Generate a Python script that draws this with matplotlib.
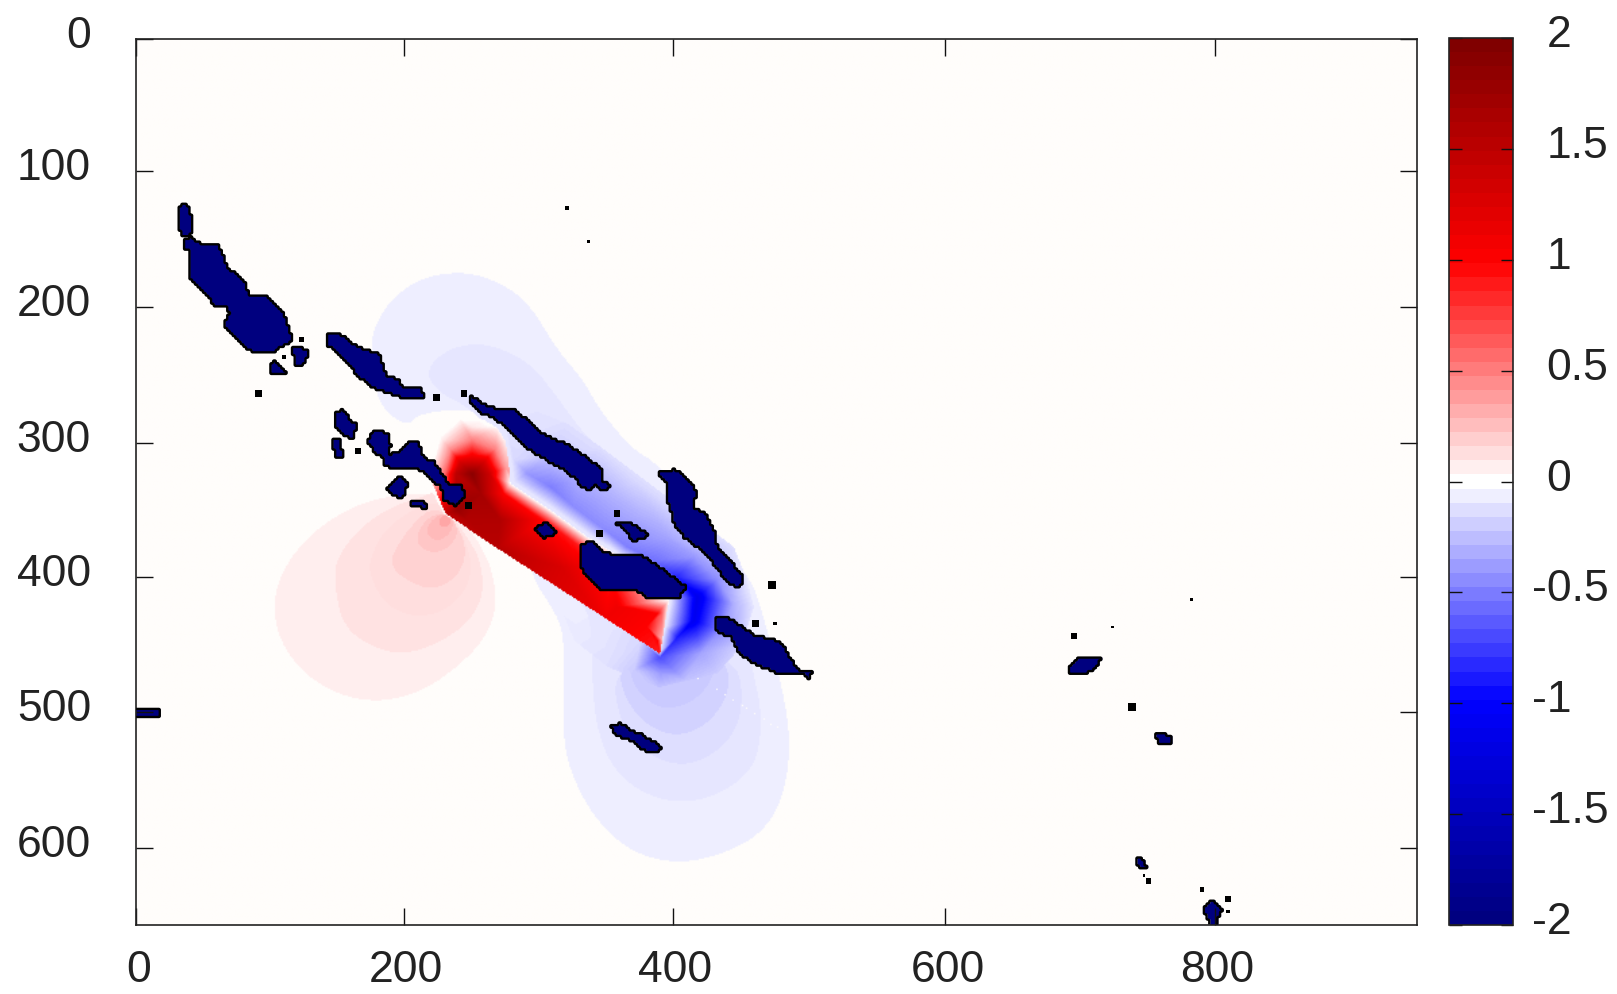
import numpy as np
import matplotlib
matplotlib.use("Agg")
import matplotlib.pyplot as plt
from matplotlib.cm import ScalarMappable
from matplotlib.colors import LinearSegmentedColormap, ListedColormap, Normalize
from matplotlib.path import Path
from matplotlib.transforms import ScaledTranslation
import matplotlib.tri as mtri

plt.rcParams['font.family'] = ['Liberation Sans', 'DejaVu Sans']

X_MAX, Y_MAX = 950, 656
x_labels = ['0', '200', '400', '600', '800']
x_tick_pos = [0, 198.7, 398.2, 600, 800]
y_labels = ['0', '100', '200', '300', '400', '500', '600']
y_tick_pos = [0, 97.7, 198.5, 299.3, 398.5, 498.5, 599.2]
cbar_ticks = [-2, -1.5, -1, -0.5, 0, 0.5, 1, 1.5, 2]
cbar_labels = ['-2', '-1.5', '-1', '-0.5', '0', '0.5', '1', '1.5', '2']

# ---- stepped outer contours (level, outline)
red_1 = [(223.3,336.6),(188.7,337.8),(159,346.5),(129.4,366.2),(109.6,390.9),(101,418.1),(107.1,447.7),(126.9,472.4),(154.1,487.2),(183.7,490.9),(213.4,482.3),(238.1,465),(257.9,445.2),(267.8,420.5),(264,393.4),(255.4,374.9),(243,356.3),(230,345)]
red_2 = [(223.3,334.1),(208.5,340.3),(188.7,346.5),(166.4,361.3),(149.1,383.5),(146.7,400.8),(152.9,435.4),(178.8,452.6),(203.5,455.1),(228.2,445.2),(248,430.4),(257.9,410.7),(255.4,386),(245.5,368.7),(234.4,353.9)]
red_3 = [(223.3,341.5),(203.5,348.9),(183.7,363.7),(173.9,383.5),(172.6,395.8),(183.7,418.1),(203.5,428),(225.7,425.5),(243,410.7),(249.2,393.4),(245.5,373.6),(233.2,353.9)]
red_4 = [(218.3,346.5),(201,363.7),(188.7,383.5),(191.1,393.4),(201,400.8),(218.3,408.2),(235.6,400.8),(244.3,386),(243,368.7),(231.9,352.6)]
red_5 = [(230.7,350.2),(215.9,353.9),(207.2,368.7),(210.9,377.3),(222,381),(234.4,374.9),(239.3,362.5)]
red_6 = [(218.3,356.3),(214.6,366.2),(223.3,372.4),(233.2,366.2),(235.6,356.3),(229.5,350.2)]
red_8 = [(228.2,350.9),(223.3,358.8),(229.5,362.5),(234.4,356.3)]
blue_1 = [(236.8,172.3),(260,176),(289,192),(312,230),(331,252),(339.4,267.4),(350.5,283.5),(369.1,304.5),(386.4,314.3),(416,351.4),(433.3,371.1),(448.1,390.9),(458,405.7),(464.2,425.4),(476.6,469.9),(484,509.4),(484,536.6),(477.8,566.2),(463,588.4),(438.2,602),(411,609.4),(386.4,608.2),(361.7,598.3),(339.4,576.1),(324.6,548.9),(317.2,524.2),(316.7,492),(317.2,450.1),(314.7,432.8),(304.8,415.6),(293.7,399.5),(277.6,329),(275.2,294.6),(267.8,282.2),(250.5,274.8),(228.2,274.8),(208.5,278.5),(201,286.6),(186.2,277.2),(177.5,262.4),(173.8,225.4),(178.8,208.1),(191.1,190.8),(210.9,177.2)]
blue_2 = [(215.8,250.1),(219.5,239),(233.1,229.1),(250.4,225.4),(267.7,227.9),(292.4,240.2),(310,262),(330,290),(350,310),(375,333),(392,345),(410,365),(430,390),(445,410),(450,430),(458,472),(463,494.6),(463,516.8),(458,539),(438.2,556.3),(413.5,565),(388.8,563.7),(364.1,551.4),(346.8,529),(338.2,492),(338.2,430),(325,410),(300,385),(280,345),(277,335),(275,300),(265,290),(245,272),(225,262)]
blue_3 = [(353,467),(358,504.5),(374,526.7),(401.2,539),(426,531.6),(445.7,511.9),(450.1,482.3),(443.2,460),(400,450)]
blue_4 = [(356.7,462.5),(361.7,487.2),(376.5,507),(398.7,516.8),(421,509.4),(435.8,492.1),(440.7,472.4),(433.3,457.6)]
blue_5 = [(364.1,462.5),(370.3,482.3),(388.8,497.1),(411.1,492.1),(425.9,477.3),(429.6,460)]
red_levels = [(.06, red_1), (.105, red_2), (.13, red_3), (.18, red_4), (.22, red_5), (.27, red_6), (.35, red_8)]
blue_levels = [(-.065, blue_1), (-.095, blue_2), (-.13, blue_3), (-.165, blue_4), (-.2, blue_5)]

# ---- sampled values of the strong blue zone
blue_x = [280.1,290,307.3,324.6,344.4,364.1,383.9,401.2,416,413.5,401.2,277.6,307.3,334.5,356.7,395,391.3,388.3,285,307.3,329.5,354.2,374,393.8,413.5,430.8,443.2,433.3,418.5,458,448.1,430.8,388.8,369.1,349.3,324.6,374,344.4,388.3,387.6,407,270,319.6,344.4,369,443,433.3,453]
blue_y = [311.9,321.7,331.6,346.4,361.2,376.1,385.9,398.3,413.1,430.4,442.7,329.1,348.9,368.6,382.2,415.6,435.3,453.8,297,306.9,324.2,339,351.4,368.6,383.5,400.7,418,437.8,455.1,420.5,450.1,469.9,469.9,467.4,464.9,445.2,445.2,432.8,458,480,475,265,284.7,302,326.7,376,381,400.7]
blue_v = [-.15,-.4,-.5,-.45,-.45,-.5,-.55,-.85,-1.15,-1.1,-.9,-.02,-.02,-.02,-.02,-.02,-.02,-.1,-.12,-.2,-.3,-.3,-.3,-.35,-.4,-.45,-.3,-.45,-.35,-.1,-.18,-.2,-.38,-.2,-.12,-.08,-.15,-.08,-.7,-.24,-.24,-.08,-.12,-.12,-.15,-.12,-.2,-.08]

# ---- sampled values of the red slab and its blob
red_x = [249,237,240,249,258,262,229,233,249,266,274,220,227,249,273,277.6,307.3,334.5,356.7,395,272.6,302.3,329.5,351.7,390,386.4,386.4,390,255.4,238.1,229.5,245.5,268,308,348,388.3,270,314.7,356.7,378.9,268,258,240,226,218]
red_y = [322,322,313,309,313,322,322,304,297,304,318,322,297,287,298,329.1,348.9,368.6,382.2,415.6,336.6,356.4,376.1,389.7,425.4,425.4,445.2,445,336.6,348.9,351.4,356.3,377.3,403.3,429.2,455.1,356,391,420,435,287,281,281,293,325]
red_v = [1.9,1.5,1.3,1.1,1.3,1.4,.6,.45,.5,.5,.4,.15,.08,.08,.08,0,0,0,0,0,1.0,.95,.9,.85,.6,1.0,1.0,.3,1.7,1.8,1.5,1.6,1.55,1.3,1.1,.9,1.6,1.3,1.1,1.0,0,0,0,0,.03]
red_clip = [(228.2,351.4),(388.3,455.1),(395,415.6),(356.7,382.2),(334.5,368.6),(307.3,348.9),(277.6,329.1),(276,312),(274,298),(268,288),(258,282),(249,280),(239,282),(230,288),(224,296),(219,310),(217,325),(222,340)]

# ---- isolated white cells
dots_x = [416,430.3,436.5,442.7,449.4,452.6,458.8,465,470.4,475.3,484]
dots_y = [473.6,481.8,485.2,489.7,493.9,495.8,499.5,503.7,507.7,509.9,518]

# ---- land
isl_a = [(33,124.2),(36.7,122.2),(39.9,126.6),(41.6,136.5),(39.9,146.4),(34.2,145.1),(32.2,136.5)]
isl_b = [(36.7,150.1),(40.4,146.9),(45.3,151.3),(61.4,152.5),(67.6,169.8),(79.9,178.5),(83.6,189.6),(97.2,190.8),(109.6,203.2),(115.7,222.9),(109.6,226.6),(100.9,231.6),(87.3,231.6),(79.9,226.6),(66.3,211.8),(70,203.2),(68.8,197.7),(60.1,197.7),(46.6,182.2),(40.9,177.2),(40.9,156.3),(36.7,155)]
isl_c = [(117,227.9),(128.1,230.3),(124.4,240.2),(118.2,241.4)]
isl_d = [(99.7,242.7),(103.4,239),(112,247.1),(101,247.1)]
isl_e = [(141.7,217.5),(149.1,217.5),(163.9,227.9),(180,234),(186.2,250.1),(194.8,252.5),(197.3,258.7),(209.6,258),(214.6,266.1),(201,266.1),(191.1,262.4),(176.3,257.5),(166.4,250.1),(154,235.3),(141.7,225.4)]
isl_f = [(147.9,276),(154,275.3),(159,283.4),(164.4,285.9),(160.2,295.8),(152.8,290.8),(147.9,287.1)]
isl_g = [(147.1,295.8),(150.3,295.8),(154,309.3),(149.1,310.6),(147.1,301.9)]
isl_h = [(172.6,298.2),(177.5,290.1),(186.2,292),(188.6,301.9),(186.2,309.3),(180,308.1)]
isl_i = [(184,310),(196.1,305.7),(203.5,298.3),(209.7,299.5),(213.4,310.6),(220.8,313.1),(228.2,324.2),(231.9,330.4),(241.8,330.4),(243,339),(236.9,345.2),(229.5,341.5),(227,331.6),(210.9,318),(196.1,317.3),(190,317),(184,314)]
isl_j = [(204.7,341.5),(214,342.5),(215,347),(205,345)]
isl_k = [(187.4,331.6),(196.1,324.2),(201,329.2),(197.3,340.3),(192.4,337.8),(187.4,334.1)]
isl_l = [(248,263.7),(255.4,269.9),(267.8,274.8),(281.3,274.8),(299.9,292.1),(319.6,300.7),(330.8,308.2),(345.6,319.3),(344.4,326.7),(351.8,330.4),(346.8,334.1),(340.6,329.1),(337,332.8),(330.8,331.6),(327.1,325.4),(317.2,318),(299.9,308.2),(290,302),(267.8,281),(255.4,276),(249.2,268.6)]
isl_m = [(387.6,320.5),(399.9,319.3),(406.1,324.2),(416,335.3),(412.3,347.7),(422.2,351.4),(429.6,367.4),(430.8,376.1),(439.5,384.7),(449.4,398.3),(448.1,405.7),(439.5,402),(430.8,390.9),(423.4,381),(407.4,368.6),(400,358.8),(393.8,336.6),(395,329.1)]
isl_n = [(331.5,374.8),(338.2,372.4),(346.8,379.8),(356.7,383.5),(374,382.2),(388.8,392.1),(407.4,405.7),(402.4,413.1),(391.3,414.3),(379,413.1),(372.8,408.2),(345.6,406.9),(337,399.5),(331.5,392.1)]
isl_o = [(430.8,429.1),(439.5,429.1),(458,441.5),(477.8,446.4),(490.1,467.4),(501.3,468.6),(498.8,473.6),(495.1,469.9),(477.8,469.9),(463,463.7),(448.1,455.1),(442,442.7),(430.8,437.8)]
isl_p = [(297.4,362.5),(303.6,358.8),(312.2,365),(303.6,368.6)]
isl_q = [(355.5,357.5),(366.6,358.8),(380.2,367.4),(369.1,371.1),(362.9,362.5)]
isl_r = [(353,508.2),(359.2,507.4),(366.6,511.9),(375.2,515.6),(388.8,524.2),(385.1,528.7),(376.5,525.5),(371.5,520.5),(364.1,518),(355.5,514.4)]
isl_s = [(692.8,464.9),(698.9,458.7),(715,459.5),(711.3,466.1),(701.4,469.8),(692.8,469.8)]
isl_t = [(743.4,605.6),(750.8,614.3),(742.2,612)]
isl_u = [(791.6,644),(797.8,637.7),(805.2,645.2),(801.5,651.3),(800.3,656),(796.5,656),(795.3,650.1)]
isl_v = [(0,497),(17,497),(18,502),(0,502)]
isl_w = [(757,515),(768,516),(767,522),(759,522)]
land = [isl_a, isl_b, isl_c, isl_d, isl_e, isl_f, isl_g, isl_h, isl_i, isl_j, isl_k, isl_l,
        isl_m, isl_n, isl_o, isl_p, isl_q, isl_r, isl_s, isl_t, isl_u, isl_v, isl_w]
islet_x = [320,336,91,123.2,110,223.2,243.7,164.7,246.8,343.9,356.7,471.6,459.3,474.1,783,724.4,696,738.5,747.6,750.8,790.4,810.1,810]
islet_y = [125,150,262.4,222.4,235.3,265.6,262.4,304.9,345.2,366.2,351.4,404.5,432.8,432.8,415,435.3,442.2,494.5,619.2,623.4,629.6,636.5,646]
islet_s = [8,5,24,12,8,26,20,20,24,26,20,32,26,6,4,4,20,30,4,14,10,20,6]


def rounded(poly, passes=3):
    """Corner-cut an outline so that it draws as a smooth contour."""
    p = np.asarray(poly, float)
    for _ in range(passes):
        q = np.roll(p, -1, axis=0)
        p = np.column_stack([.75 * p + .25 * q, .25 * p + .75 * q]).reshape(-1, 2)
    return p


# ---- field
gx, gy = np.meshgrid(np.arange(X_MAX) + .5, np.arange(Y_MAX) + .5)
pts = np.column_stack([gx.ravel(), gy.ravel()])
field = np.zeros(gx.shape)
for lev, poly in blue_levels + red_levels:
    field[Path(rounded(poly)).contains_points(pts).reshape(gx.shape)] = lev

zb = np.ma.filled(mtri.LinearTriInterpolator(mtri.Triangulation(blue_x, blue_y), blue_v)(gx, gy), 0.0)
field = np.where((field <= 0.001) | (zb < -.1), np.minimum(field, zb), field)

zr = np.ma.filled(mtri.LinearTriInterpolator(mtri.Triangulation(red_x, red_y), red_v)(gx, gy), 0.0)
inside = Path(red_clip).contains_points(pts).reshape(gx.shape)
field[inside & (zr > .03)] = zr[inside & (zr > .03)]
field[inside & (zr <= .03)] = 0
field[np.array(dots_y).astype(int), np.array(dots_x).astype(int)] = 0

# ---- land mask on the coarse cells of the source picture
mask = np.zeros(gx.shape, bool)
for poly in land:
    mask |= Path(poly).contains_points(pts).reshape(gx.shape)
coarse = mask.reshape(Y_MAX // 2, 2, X_MAX // 2, 2).any(axis=(1, 3))
mask = np.repeat(np.repeat(coarse, 2, axis=0), 2, axis=1)
field[mask] = -2

# ---- colour maps
ramp = [(0, 0, .5), (0, 0, 1), (1, 1, 1), (1, 0, 0), (.5, 0, 0)]
fine = LinearSegmentedColormap.from_list('fine', ramp, N=255)(np.arange(255))
fine[127] = matplotlib.colors.to_rgba('#fffdfb')
cmap = ListedColormap(fine)
cmap_bar = LinearSegmentedColormap.from_list('bar', ramp, N=63)
norm = Normalize(-2, 2)

W, H = 1617, 994
fig = plt.figure(figsize=(W / 100, H / 100), dpi=100, facecolor='white')
ax = fig.add_axes([135.5 / W, 1 - 925 / H, (1417 - 135.5) / W, (925 - 39) / H])
im = ax.imshow(field, extent=(0, X_MAX, Y_MAX, 0), cmap=cmap, norm=norm, aspect='auto',
               interpolation='bilinear', zorder=1)
ax.contour(gx, gy, mask.astype(float), levels=[.5], colors='black', linewidths=1.7, zorder=3)
ax.scatter(islet_x, islet_y, s=islet_s, marker='s', c='black', linewidths=0, zorder=3)

ax.set_xlim(0, X_MAX)
ax.set_ylim(Y_MAX, 0)
ax.set_xticks(x_tick_pos, x_labels)
ax.set_yticks(y_tick_pos, y_labels)
ax.tick_params(axis='both', which='major', direction='in', length=12, width=1.0,
               top=True, right=True, labelsize=32, color='#111111', labelcolor='#222222')
ax.tick_params(axis='x', pad=18)
ax.tick_params(axis='y', pad=32)
for s in ax.spines.values():
    s.set_linewidth(1.2)
    s.set_color('#222222')
for lab in ax.get_xticklabels():
    lab.set_transform(lab.get_transform() + ScaledTranslation(2 / 72, 0, fig.dpi_scale_trans))
for lab in ax.get_yticklabels():
    lab.set_transform(lab.get_transform() + ScaledTranslation(0, 5 / 72, fig.dpi_scale_trans))

cax = fig.add_axes([1449 / W, 1 - 925 / H, 64 / W, (925 - 38) / H])
cb = fig.colorbar(ScalarMappable(norm=norm, cmap=cmap_bar), cax=cax, ticks=cbar_ticks)
cb.outline.set_linewidth(1.2)
cb.outline.set_edgecolor('#222222')
cb.ax.set_yticklabels(cbar_labels)
cb.ax.tick_params(direction='in', length=9, width=1.0, left=True, right=True, labelsize=32,
                  pad=24, color='#111111', labelcolor='#222222')
for lab, txt in zip(cb.ax.get_yticklabels(), cbar_labels):
    dx = -10 / 72 if txt.startswith('-') else 0
    lab.set_transform(lab.get_transform() + ScaledTranslation(dx, 5 / 72, fig.dpi_scale_trans))

fig.savefig('out.png', dpi=100)
